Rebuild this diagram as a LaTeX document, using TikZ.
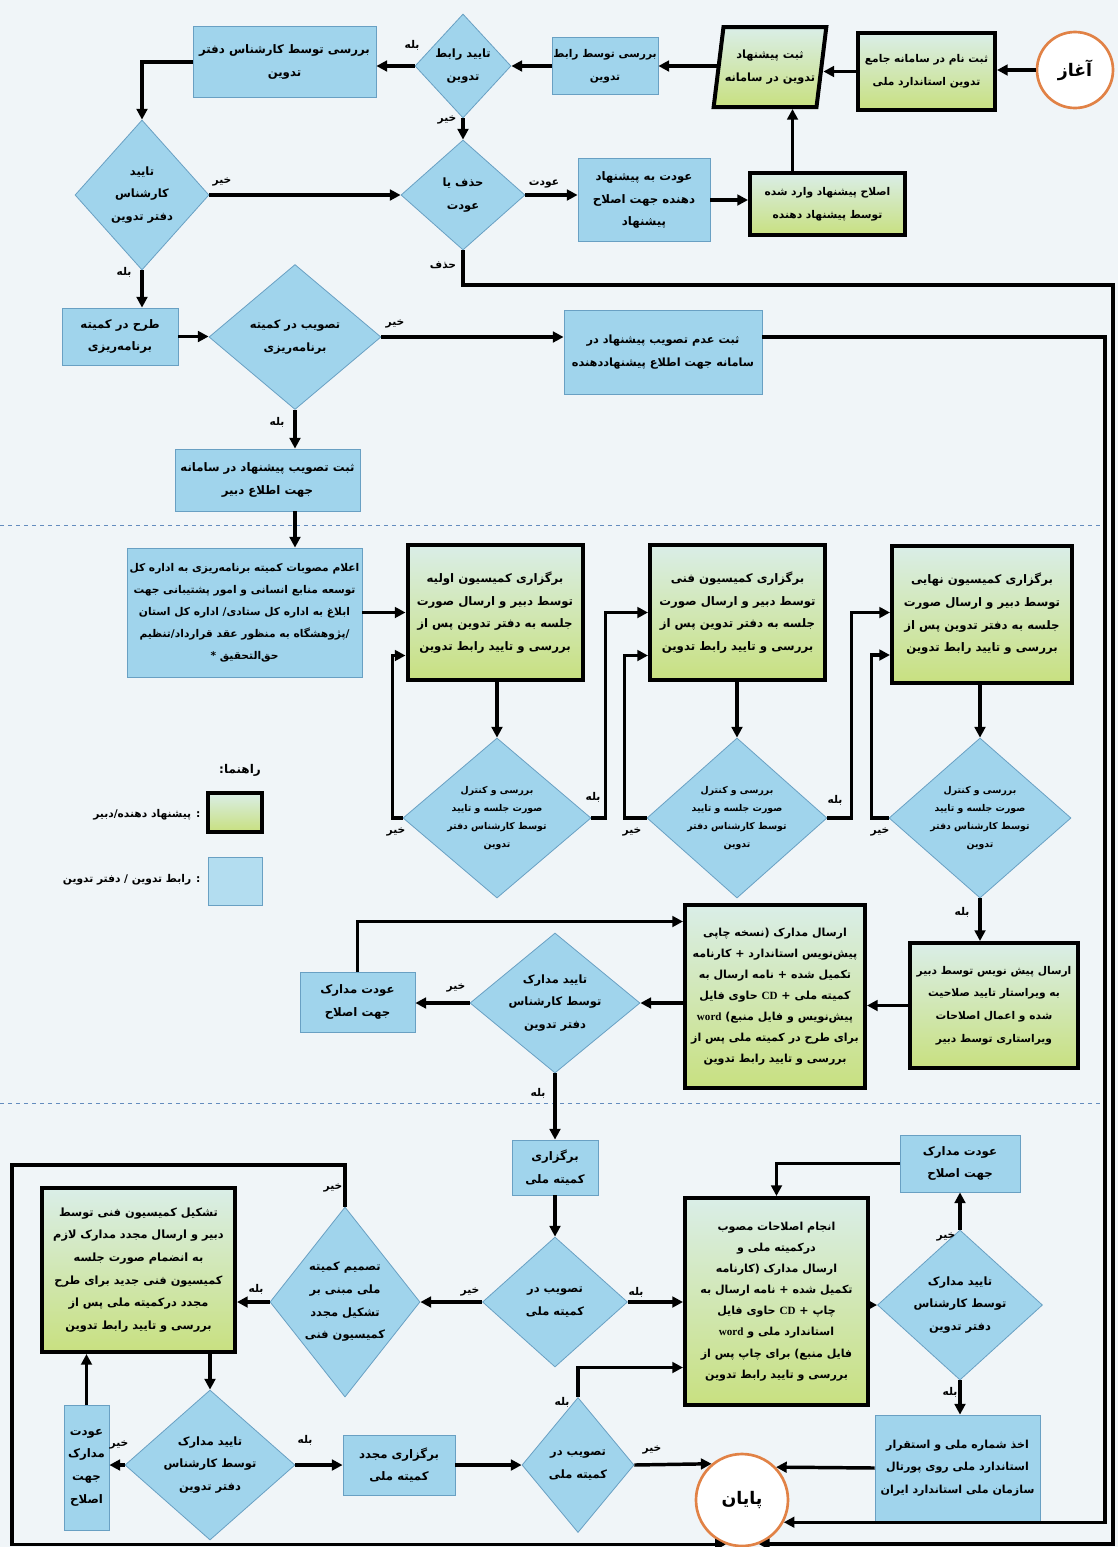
\documentclass[tikz,border=0pt]{standalone}
\usepackage{fontspec}
\usetikzlibrary{shapes.geometric,arrows.meta,calc}
\TeXXeTstate=1
\newfontfamily\fafont[Script=Arabic]{DejaVu Sans}
\newfontfamily\lserif{Liberation Serif}
\newcommand\fa[1]{\beginR #1\endR}
\newcommand\ltr[1]{\beginL{\lserif\bfseries #1}\endL}
\def\pxu{0.75pt}
\definecolor{bgc}{RGB}{240,245,248}
\definecolor{bfill}{RGB}{160,212,236}
\definecolor{bbord}{RGB}{105,160,195}
\definecolor{gtop}{RGB}{218,238,232}
\definecolor{gbot}{RGB}{200,224,128}
\definecolor{orng}{RGB}{225,130,70}
\definecolor{dashc}{RGB}{100,140,190}
\tikzset{
  arr/.style={line width=2.6pt,-{Triangle[length=8pt,width=8pt]}},
  bbox/.style={rectangle,draw=bbord,line width=0.6pt,fill=bfill,align=center,inner sep=1pt,
    font=\fafont\bfseries\fontsize{8.8}{17}\selectfont},
  gbox/.style={rectangle,draw=black,line width=3pt,top color=gtop,bottom color=gbot,align=center,inner sep=1pt,
    font=\fafont\bfseries\fontsize{8.8}{17}\selectfont},
  dia/.style={diamond,draw=bbord,line width=0.6pt,fill=bfill,inner sep=0pt},
  dtxt/.style={align=center,inner sep=0pt,font=\fafont\bfseries\fontsize{8.6}{17}\selectfont},
  dtxts/.style={align=center,inner sep=0pt,font=\fafont\bfseries\fontsize{7}{13.5}\selectfont},
  lbl/.style={inner sep=1pt,font=\fafont\bfseries\fontsize{8}{9}\selectfont},
  circ/.style={circle,draw=orng,line width=2pt,fill=white,font=\fafont\bfseries\fontsize{13}{15}\selectfont},
  small/.style={font=\fafont\bfseries\fontsize{8}{17}\selectfont},
}
\begin{document}
\begin{tikzpicture}[x=0.75pt,y=-0.75pt]
\fill[bgc] (0,0) rectangle (1118,1547);
\useasboundingbox (0,0) rectangle (1118,1547);
% dashed separators
\draw[dashc,dashed,line width=0.6pt] (0,525) -- (1100,525);
\draw[dashc,dashed,line width=0.6pt] (0,1103) -- (1100,1103);

% ---------- row 1 ----------
\node[circ,minimum size=76*\pxu] (start) at (1075,70) {\fa{آغاز}};
\node[gbox,small,minimum width=137*\pxu,minimum height=77*\pxu] (n1) at (926.5,71.5)
  {\fa{ثبت نام در سامانه جامع}\\\fa{تدوین استاندارد ملی}};
\node[trapezium,trapezium left angle=75,trapezium right angle=105,trapezium stretches=true,
  draw=black,line width=3pt,top color=gtop,bottom color=gbot,align=center,inner sep=1pt,
  minimum width=108*\pxu,minimum height=80*\pxu,font=\fafont\bfseries\fontsize{8.5}{17}\selectfont] (n2) at (770,67)
  {\fa{ثبت پیشنهاد}\\\fa{تدوین در سامانه}};
\node[bbox,small,minimum width=100*\pxu,minimum height=57*\pxu] (n3) at (605,66)
  {\fa{بررسی توسط رابط}\\\fa{تدوین}};
\node[dia,minimum width=96*\pxu,minimum height=104*\pxu] (d1) at (463,66) {};
\node[dtxt] at (d1) {\fa{تایید رابط}\\\fa{تدوین}};
\node[bbox,minimum width=183*\pxu,minimum height=71*\pxu] (n4) at (284.5,62)
  {\fa{بررسی توسط کارشناس دفتر}\\\fa{تدوین}};
\node[dia,minimum width=134*\pxu,minimum height=150*\pxu] (d2) at (142,195) {};
\node[dtxt] at (d2) {\fa{تایید}\\\fa{کارشناس}\\\fa{دفتر تدوین}};
\node[dia,minimum width=124*\pxu,minimum height=110*\pxu] (d3) at (463,195) {};
\node[dtxt] at (d3) {\fa{حذف یا}\\\fa{عودت}};
\node[bbox,minimum width=132*\pxu,minimum height=83*\pxu] (n5) at (644,200)
  {\fa{عودت به پیشنهاد}\\\fa{دهنده جهت اصلاح}\\\fa{پیشنهاد}};
\node[gbox,small,minimum width=155*\pxu,minimum height=62*\pxu] (n6) at (827.5,204)
  {\fa{اصلاح پیشنهاد وارد شده}\\\fa{توسط پیشنهاد دهنده}};
\coordinate (n6t) at ($(n6.north west)!0.28!(n6.north east)$);

% ---------- row 2 ----------
\node[bbox,minimum width=116*\pxu,minimum height=57*\pxu] (n7) at (120,336.5)
  {\fa{طرح در کمیته}\\\fa{برنامه‌ریزی}};
\node[dia,minimum width=172*\pxu,minimum height=145*\pxu] (d4) at (295,337) {};
\node[dtxt] at (d4) {\fa{تصویب در کمیته}\\\fa{برنامه‌ریزی}};
\node[bbox,minimum width=198*\pxu,minimum height=84*\pxu,font=\fafont\bfseries\fontsize{8.5}{17}\selectfont] (n8) at (663,352)
  {\fa{ثبت عدم تصویب پیشنهاد در}\\\fa{سامانه جهت اطلاع پیشنهاددهنده}};
\node[bbox,minimum width=185*\pxu,minimum height=62*\pxu] (n9) at (267.5,480)
  {\fa{ثبت تصویب پیشنهاد در سامانه}\\\fa{جهت اطلاع دبیر}};

% ---------- row 3 ----------
\node[bbox,minimum width=235*\pxu,minimum height=129*\pxu,font=\fafont\bfseries\fontsize{8}{16.5}\selectfont] (n10) at (244.5,612.5)
  {\fa{اعلام مصوبات کمیته برنامه‌ریزی به اداره کل}\\\fa{توسعه منابع انسانی و امور پشتیبانی جهت}\\
   \fa{ابلاغ به اداره کل ستادی/ اداره کل استان}\\\fa{/پژوهشگاه به منظور عقد قرارداد/تنظیم}\\\fa{حق‌التحقیق *}};
\node[gbox,minimum width=175*\pxu,minimum height=135*\pxu] (c1) at (495,612.5)
  {\fa{برگزاری کمیسیون اولیه}\\\fa{توسط دبیر و ارسال صورت}\\\fa{جلسه به دفتر تدوین پس از}\\\fa{بررسی و تایید رابط تدوین}};
\node[gbox,minimum width=175*\pxu,minimum height=135*\pxu] (c2) at (737.5,612.5)
  {\fa{برگزاری کمیسیون فنی}\\\fa{توسط دبیر و ارسال صورت}\\\fa{جلسه به دفتر تدوین پس از}\\\fa{بررسی و تایید رابط تدوین}};
\node[gbox,minimum width=180*\pxu,minimum height=137*\pxu] (c3) at (982,614)
  {\fa{برگزاری کمیسیون نهایی}\\\fa{توسط دبیر و ارسال صورت}\\\fa{جلسه به دفتر تدوین پس از}\\\fa{بررسی و تایید رابط تدوین}};
\node[dia,minimum width=188*\pxu,minimum height=160*\pxu] (dd1) at (497,818) {};
\node[dtxts] at (dd1) {\fa{بررسی و کنترل}\\\fa{صورت جلسه و تایید}\\\fa{توسط کارشناس دفتر}\\\fa{تدوین}};
\node[dia,minimum width=180*\pxu,minimum height=160*\pxu] (dd2) at (737,818) {};
\node[dtxts] at (dd2) {\fa{بررسی و کنترل}\\\fa{صورت جلسه و تایید}\\\fa{توسط کارشناس دفتر}\\\fa{تدوین}};
\node[dia,minimum width=182*\pxu,minimum height=160*\pxu] (dd3) at (980,818) {};
\node[dtxts] at (dd3) {\fa{بررسی و کنترل}\\\fa{صورت جلسه و تایید}\\\fa{توسط کارشناس دفتر}\\\fa{تدوین}};

% legend
\node[lbl,font=\fafont\bfseries\fontsize{9}{10}\selectfont] (legt) at (240,770) {\fa{راهنما:}};
\node[gbox,minimum width=54*\pxu,minimum height=39*\pxu] (legg) at (235,812) {};
\node[bbox,minimum width=54*\pxu,minimum height=48*\pxu,fill=bfill!80!white] (legb) at (235,881) {};
\node[lbl,anchor=east] (leggl) at (202,815) {\fa{: پیشنهاد دهنده/دبیر}};
\node[lbl,anchor=east] (legbl) at (202,880) {\fa{: رابط تدوین / دفتر تدوین}};

% ---------- row 4 ----------
\node[gbox,small,minimum width=168*\pxu,minimum height=125*\pxu] (e) at (994,1005.5)
  {\fa{ارسال پیش نویس توسط دبیر}\\\fa{به ویراستار تایید صلاحیت}\\\fa{شده و اعمال اصلاحات}\\\fa{ویراستاری توسط دبیر}};
\node[gbox,minimum width=180*\pxu,minimum height=183*\pxu,font=\fafont\bfseries\fontsize{8.3}{15.8}\selectfont] (f) at (775,996.5)
  {\fa{ارسال مدارک (نسخه چاپی}\\\fa{پیش‌نویس استاندارد + کارنامه}\\\fa{تکمیل شده + نامه ارسال به}\\
   \fa{کمیته ملی + \ltr{CD} حاوی فایل}\\\fa{پیش‌نویس و فایل منبع) \ltr{word}}\\
   \fa{برای طرح در کمیته ملی پس از}\\\fa{بررسی و تایید رابط تدوین}};
\node[dia,minimum width=170*\pxu,minimum height=140*\pxu] (g) at (555,1003) {};
\node[dtxt] at (g) {\fa{تایید مدارک}\\\fa{توسط کارشناس}\\\fa{دفتر تدوین}};
\node[bbox,minimum width=115*\pxu,minimum height=60*\pxu] (h) at (357.5,1002)
  {\fa{عودت مدارک}\\\fa{جهت اصلاح}};

% ---------- row 5 ----------
\node[bbox,minimum width=86*\pxu,minimum height=55*\pxu] (i) at (555,1167.5)
  {\fa{برگزاری}\\\fa{کمیته ملی}};
\node[dia,minimum width=145*\pxu,minimum height=130*\pxu] (j) at (555,1302) {};
\node[dtxt] at (j) {\fa{تصویب در}\\\fa{کمیته ملی}};
\node[gbox,minimum width=183*\pxu,minimum height=207*\pxu,font=\fafont\bfseries\fontsize{8.3}{15.8}\selectfont] (k) at (776.5,1301.5)
  {\fa{انجام اصلاحات مصوب}\\\fa{درکمیته ملی و}\\\fa{ارسال مدارک (کارنامه}\\\fa{تکمیل شده + نامه ارسال به}\\
   \fa{چاپ + \ltr{CD} حاوی فایل}\\\fa{استاندارد ملی و \ltr{word}}\\
   \fa{فایل منبع) برای چاپ پس از}\\\fa{بررسی و تایید رابط تدوین}};
\node[dia,minimum width=165*\pxu,minimum height=150*\pxu] (l) at (960,1305) {};
\node[dtxt] at (l) {\fa{تایید مدارک}\\\fa{توسط کارشناس}\\\fa{دفتر تدوین}};
\node[bbox,minimum width=120*\pxu,minimum height=57*\pxu] (m) at (960,1163.5)
  {\fa{عودت مدارک}\\\fa{جهت اصلاح}};
\node[bbox,minimum width=165*\pxu,minimum height=106*\pxu,font=\fafont\bfseries\fontsize{8.3}{17}\selectfont] (n) at (957.5,1468)
  {\fa{اخذ شماره ملی و استقرار}\\\fa{استاندارد ملی روی پورتال}\\\fa{سازمان ملی استاندارد ایران}};
\node[circ,minimum size=92*\pxu] (end) at (742,1500) {\fa{پایان}};
\node[dia,minimum width=150*\pxu,minimum height=190*\pxu] (o) at (345,1302) {};
\node[dtxt] at (o) {\fa{تصمیم کمیته}\\\fa{ملی مبنی بر}\\\fa{تشکیل مجدد}\\\fa{کمیسیون فنی}};
\node[gbox,minimum width=193*\pxu,minimum height=164*\pxu,font=\fafont\bfseries\fontsize{8.5}{17}\selectfont] (p) at (138.5,1270)
  {\fa{تشکیل کمیسیون فنی توسط}\\\fa{دبیر و ارسال مجدد مدارک لازم}\\\fa{به انضمام صورت جلسه}\\
   \fa{کمیسیون فنی جدید برای طرح}\\\fa{مجدد درکمیته ملی پس از}\\\fa{بررسی و تایید رابط تدوین}};
\node[dia,minimum width=170*\pxu,minimum height=150*\pxu] (q) at (210,1465) {};
\node[dtxt] at (q) {\fa{تایید مدارک}\\\fa{توسط کارشناس}\\\fa{دفتر تدوین}};
\node[bbox,minimum width=45*\pxu,minimum height=125*\pxu] (r) at (86.5,1467.5)
  {\fa{عودت}\\\fa{مدارک}\\\fa{جهت}\\\fa{اصلاح}};
\node[bbox,minimum width=112*\pxu,minimum height=60*\pxu] (s) at (399,1465)
  {\fa{برگزاری مجدد}\\\fa{کمیته ملی}};
\node[dia,minimum width=112*\pxu,minimum height=135*\pxu] (t) at (578,1465) {};
\node[dtxt] at (t) {\fa{تصویب در}\\\fa{کمیته ملی}};

% ---------- connectors ----------
\draw[arr] (start.west) -- (start.west -| n1.east);
\draw[arr] (n1.west) -- (n1.west -| n2.east);
\draw[arr] (n2.west |- n3.east) -- (n3.east);
\draw[arr] (n3.west) -- (d1.east);
\draw[arr] (d1.west) -- (d1.west -| n4.east);
\draw[arr] (d1.south) -- (d3.north);
\draw[arr] (n4.west) -| (d2.north);
\draw[arr] (d2.east) -- (d3.west);
\draw[arr] (d3.east) -- (d3.east -| n5.west);
\draw[arr] (n5.east) -- (n5.east -| n6.west);
\draw[arr] (n6t) -- (n6t |- n2.south);
\draw[arr] (d3.south) |- (1113,285) |- (end.-69.2);
\draw[arr] (d2.south) -- (d2.south |- n7.north);
\draw[arr] (n7.east) -- (n7.east -| d4.west);
\draw[arr] (d4.east) -- (d4.east -| n8.west);
\draw[arr] (n8.east |- d4.east) -- (1105,337) |- (end.-28.6);
\draw[arr] (d4.south) -- (d4.south |- n9.north);
\draw[arr] (d4.south |- n9.south) -- (d4.south |- n10.north);
\draw[arr] (n10.east) -- (n10.east -| c1.west);
\draw[arr] (c1.south -| dd1.north) -- (dd1.north);
\draw[arr] (c2.south -| dd2.north) -- (dd2.north);
\draw[arr] (c3.south -| dd3.north) -- (dd3.north);
\draw[arr] (dd1.west) -- ++(-10,0) |- ($(c1.west)+(0,43)$);
\draw[arr] (dd1.east) -- ++(14,0) |- (c2.west);
\draw[arr] (dd2.west) -- ++(-22,0) |- ($(c2.west)+(0,43)$);
\draw[arr] (dd2.east) -- ++(24,0) |- (c3.west |- c2.west);
\draw[arr] (dd3.west) -- ++(-17,0) |- ($(c3.west)+(0,41)$);
\draw[arr] (dd3.south) -- (dd3.south |- e.north);
\draw[arr] (e.west) -- (e.west -| f.east);
\draw[arr] (f.west |- g.east) -- (g.east);
\draw[arr] (g.west) -- (g.west -| h.east);
\draw[arr] (h.north) |- ($(f.west)+(0,-75)$);
\draw[arr] (g.south) -- (g.south |- i.north);
\draw[arr] (i.south) -- (j.north);
\draw[arr] (j.east) -- (j.east -| k.west);
\draw[arr] (k.east |- l.west) -- (l.west);
\draw[arr] (l.north) -- (l.north |- m.south);
\draw[arr] (m.west) -| (k.north);
\draw[arr] (l.south) -- (l.south |- n.north);
\draw[arr] (n.west) -- (end.44.1);
\draw[arr] (j.west) -- (j.west -| o.east);
\draw[arr] (o.west) -- (o.west -| p.east);
\draw[arr] (o.north) |- (12,1165) |- (end.-110.8);
\draw[arr] (p.south -| q.north) -- (q.north);
\draw[arr] (q.west) -- (q.west -| r.east);
\draw[arr] (r.north) -- (r.north |- p.south);
\draw[arr] (q.east) -- (q.east -| s.west);
\draw[arr] (s.east) -- (t.west);
\draw[arr] (t.north) |- ($(k.west)+(0,66)$);
\draw[arr] (t.east) -- (end.130.5);

% ---------- labels ----------
\node[lbl] (l1) at (412,45) {\fa{بله}};
\node[lbl] (l2) at (447,120) {\fa{خیر}};
\node[lbl] (l3) at (222,182) {\fa{خیر}};
\node[lbl] (l4) at (544,184) {\fa{عودت}};
\node[lbl] (l5) at (443,265) {\fa{حذف}};
\node[lbl] (l6) at (124,272) {\fa{بله}};
\node[lbl] (l7) at (395,324) {\fa{خیر}};
\node[lbl] (l8) at (277,422) {\fa{بله}};
\node[lbl] (l9) at (396,832) {\fa{خیر}};
\node[lbl] (l10) at (593,797) {\fa{بله}};
\node[lbl] (l11) at (632,832) {\fa{خیر}};
\node[lbl] (l12) at (835,800) {\fa{بله}};
\node[lbl] (l13) at (880,832) {\fa{خیر}};
\node[lbl] (l14) at (962,912) {\fa{بله}};
\node[lbl] (l15) at (456,988) {\fa{خیر}};
\node[lbl] (l16) at (538,1093) {\fa{بله}};
\node[lbl] (l17) at (636,1292) {\fa{بله}};
\node[lbl] (l18) at (470,1292) {\fa{خیر}};
\node[lbl] (l19) at (946,1237) {\fa{خیر}};
\node[lbl] (l20) at (950,1392) {\fa{بله}};
\node[lbl] (l21) at (333,1188) {\fa{خیر}};
\node[lbl] (l22) at (256,1289) {\fa{بله}};
\node[lbl] (l23) at (119,1445) {\fa{خیر}};
\node[lbl] (l24) at (305,1440) {\fa{بله}};
\node[lbl] (l25) at (562,1402) {\fa{بله}};
\node[lbl] (l26) at (652,1450) {\fa{خیر}};
\end{tikzpicture}
\end{document}
